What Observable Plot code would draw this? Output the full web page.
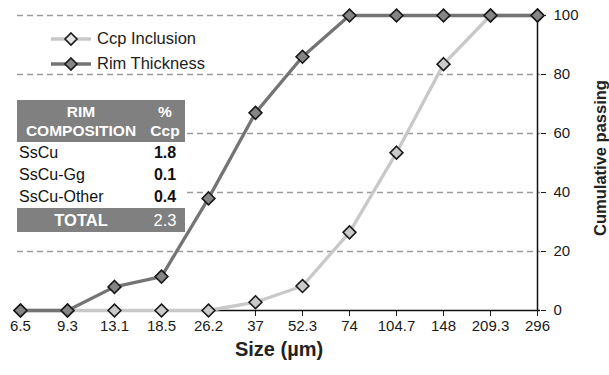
<!DOCTYPE html>
<html>
<head>
<meta charset="utf-8">
<script src="https://cdn.jsdelivr.net/npm/d3@7"></script>
<script src="https://cdn.jsdelivr.net/npm/@observablehq/plot@0.6"></script>
<style>
  html, body { margin: 0; padding: 0; background: #fff; }
  body { font-family: "Liberation Sans", Arial, Helvetica, sans-serif; }
  #wrap { position: relative; width: 609px; height: 375px; }
  #legend { position: absolute; left: 50px; top: 26px; font-size: 16.5px; color: #222; }
  .li { display: flex; align-items: center; height: 25px; }
  .li svg { margin-right: 5px; }
  #tbl { position: absolute; left: 17px; top: 100px; width: 168px; background: #fff; font-size: 16px; color: #111; }
  #tbl .row { display: flex; align-items: center; }
  #tbl .c1 { width: 128px; }
  #tbl .c2 { width: 40px; text-align: center; }
  #tbl .hd { background: #808080; color: #fff; font-weight: bold; height: 42px; line-height: 19px; font-size: 15.5px; }
  #tbl .hd .c1, #tbl .hd .c2 { text-align: center; }
  #tbl .dr { height: 22px; }
  #tbl .dr .c1 { padding-left: 2px; width: 126px; }
  #tbl .dr .c2 { font-weight: bold; }
  #tbl .tot { background: #808080; color: #fff; height: 24px; font-size: 16.5px; }
  #tbl .tot .c1 { text-align: center; font-weight: bold; }
</style>
</head>
<body>
<div id="wrap"></div>
<script>
const sizes = ["6.5", "9.3", "13.1", "18.5", "26.2", "37", "52.3", "74", "104.7", "148", "209.3", "296"];
const ccpInclusion = [0, 0, 0, 0, 0, 2.8, 8.3, 26.5, 53.5, 83.5, 100, 100];
const rimThickness = [0, 0, 8, 11.5, 38, 67, 86, 100, 100, 100, 100, 100];
const yTicks = [0, 20, 40, 60, 80, 100];
const gridTicks = [20, 40, 60, 80, 100];
const seriesNames = ["Ccp Inclusion", "Rim Thickness"];
const tableRows = [["SsCu", "1.8"], ["SsCu-Gg", "0.1"], ["SsCu-Other", "0.4"]];
const tableTotal = ["TOTAL", "2.3"];

const ccp = sizes.map((s, i) => ({size: s, value: ccpInclusion[i]}));
const rim = sizes.map((s, i) => ({size: s, value: rimThickness[i]}));

const font = '"Liberation Sans", Arial, Helvetica, sans-serif';

const chart = Plot.plot({
  width: 609,
  height: 375,
  marginLeft: 17,
  marginRight: 69,
  marginTop: 15,
  marginBottom: 65,
  style: {fontFamily: font, background: "#fff", overflow: "visible"},
  x: {type: "point", domain: sizes, padding: 0},
  y: {domain: [0, 100]},
  marks: [
    Plot.ruleY(gridTicks, {stroke: "#9a9a9a", strokeWidth: 1.3, strokeDasharray: "6,4"}),
    Plot.axisX({anchor: "bottom", tickSize: 6, tickPadding: 4, fontSize: 15, color: "#1a1a1a", label: null}),
    Plot.ruleY([0], {stroke: "#111", strokeWidth: 1.5}),
    Plot.ruleX([sizes[sizes.length - 1]], {y1: 0, y2: 100, stroke: "#111", strokeWidth: 1.5}),
    Plot.axisY({anchor: "right", ticks: yTicks, tickSize: 5, tickPadding: 8, fontSize: 15, color: "#1a1a1a", label: null, textAnchor: "start"}),
    Plot.line(ccp, {x: "size", y: "value", stroke: "#c8c8c8", strokeWidth: 3.3}),
    Plot.dot(ccp, {x: "size", y: "value", symbol: "diamond2", r: 5.8, fill: "#cacaca", stroke: "#1a1a1a", strokeWidth: 1.6}),
    Plot.line(rim, {x: "size", y: "value", stroke: "#747474", strokeWidth: 3.3}),
    Plot.dot(rim, {x: "size", y: "value", symbol: "diamond2", r: 5.8, fill: "#858585", stroke: "#1a1a1a", strokeWidth: 1.6}),
    Plot.text(["Size (µm)"], {frameAnchor: "bottom", dy: 45, fontSize: 20, fontWeight: "bold", fill: "#222"}),
    Plot.text(["Cumulative passing"], {frameAnchor: "right", dx: 60, dy: -5, rotate: -90, textAnchor: "middle", fontSize: 16.5, fontWeight: "bold", fill: "#222"})
  ]
});

const wrap = document.getElementById("wrap");
wrap.appendChild(chart);

// Legend
const legend = document.createElement("div");
legend.id = "legend";
const legendStyles = [
  {line: "#c8c8c8", fill: "#e2e2e2"},
  {line: "#747474", fill: "#858585"}
];
seriesNames.forEach((name, i) => {
  const st = legendStyles[i];
  const item = document.createElement("div");
  item.className = "li";
  item.innerHTML = `<svg width="42" height="16"><line x1="1" y1="8" x2="41" y2="8" stroke="${st.line}" stroke-width="3.5"/><polygon points="21,2 27,8 21,14 15,8" fill="${st.fill}" stroke="#1a1a1a" stroke-width="1.6"/></svg><span>${name}</span>`;
  legend.appendChild(item);
});
wrap.appendChild(legend);

// Table
const tbl = document.createElement("div");
tbl.id = "tbl";
let html = `<div class="row hd"><div class="c1">RIM<br>COMPOSITION</div><div class="c2">%<br>Ccp</div></div>`;
tableRows.forEach(r => {
  html += `<div class="row dr"><div class="c1">${r[0]}</div><div class="c2">${r[1]}</div></div>`;
});
html += `<div class="row tot"><div class="c1">${tableTotal[0]}</div><div class="c2">${tableTotal[1]}</div></div>`;
tbl.innerHTML = html;
wrap.appendChild(tbl);
</script>
</body>
</html>
